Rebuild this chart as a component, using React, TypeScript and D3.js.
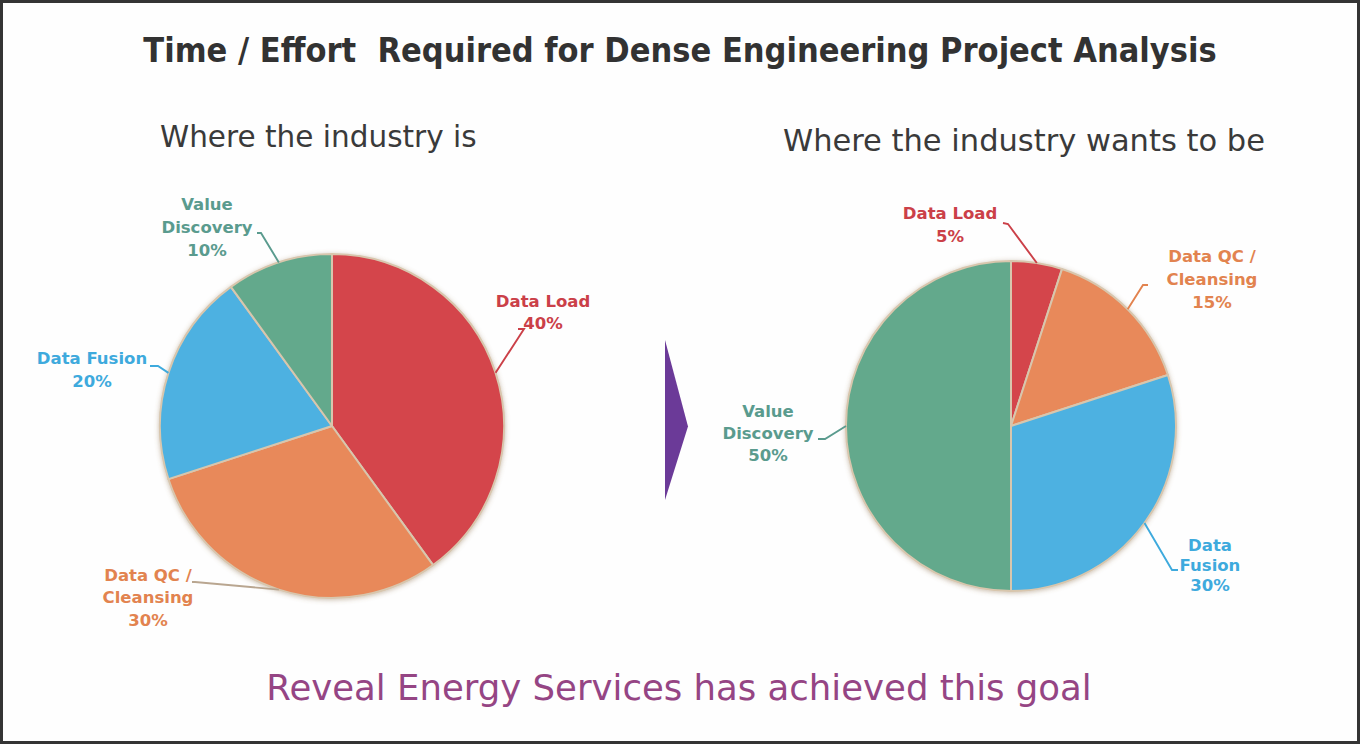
import React from "react";
import * as d3 from "d3";

// slice order, clockwise from 12 o'clock
const categories = ["Data Load", "Data QC / Cleansing", "Data Fusion", "Value Discovery"];
const currentShare = [40, 30, 20, 10];
const targetShare = [5, 15, 30, 50];

// how each pie breaks the category names into lines
const currentNameLines = [["Data Load"], ["Data QC /", "Cleansing"], ["Data Fusion"], ["Value", "Discovery"]];
const targetNameLines = [["Data Load"], ["Data QC /", "Cleansing"], ["Data", "Fusion"], ["Value", "Discovery"]];

const sliceColors = ["#d4444c", "#e8895a", "#4db1e1", "#64a98c"];
const labelColors = ["#cb4048", "#e2834f", "#3eaadd", "#5a9b8e"];

const W = 1360;
const H = 744;
const FONT = "'DejaVu Sans', Verdana, sans-serif";
const FONT_COND = "'DejaVu Sans Condensed', 'DejaVu Sans', sans-serif";

// label placement relative to each pie centre: text centre, elbow and hook of the leader
const leftLayout = {
  cx: 332, cy: 426, r: 172,
  labels: [
    { tx: 211, ty: -125, lh: 22, elbow: [192, -97], hook: [186, -97] },
    { tx: -184, ty: 149, lh: 22.5, elbow: [-137, 156], hook: [-140, 156], lineColor: "#b9a690" },
    { tx: -240, ty: -68, lh: 23, elbow: [-174, -60], hook: [-182, -60] },
    { tx: -125, ty: -222, lh: 23, elbow: [-71, -193], hook: [-75, -193] },
  ],
};
const rightLayout = {
  cx: 1011, cy: 426, r: 165,
  labels: [
    { tx: -61, ty: -213, lh: 23, elbow: [-3, -202], hook: [-8, -203] },
    { tx: 201, ty: -170, lh: 23, elbow: [132, -141], hook: [137, -141] },
    { tx: 199, ty: 119, lh: 20, elbow: [161, 144], hook: [167, 144] },
    { tx: -243, ty: -15, lh: 22, elbow: [-186, 13], hook: [-193, 13] },
  ],
};

type Layout = typeof leftLayout;

function Pie({ values, nameLines, layout, id }: { values: number[]; nameLines: string[][]; layout: Layout; id: string }) {
  const pie = d3.pie<number>().sort(null).value((d) => d);
  const arcs = pie(values);
  const arc = d3.arc<d3.PieArcDatum<number>>().innerRadius(0).outerRadius(layout.r);
  const edge = d3.arc<d3.PieArcDatum<number>>().innerRadius(layout.r).outerRadius(layout.r);

  return (
    <g transform={`translate(${layout.cx},${layout.cy})`}>
      <g filter={`url(#${id}-shadow)`}>
        {arcs.map((a, i) => (
          <path key={i} d={arc(a) || ""} fill={sliceColors[i]} stroke="#d8c6ad" strokeWidth={2} strokeLinejoin="round" />
        ))}
      </g>
      {arcs.map((a, i) => {
        const lab = layout.labels[i];
        const [ex, ey] = edge.centroid(a);
        const lines = [...nameLines[i], `${values[i]}%`];
        return (
          <g key={i}>
            <polyline
              points={`${lab.hook[0]},${lab.hook[1]} ${lab.elbow[0]},${lab.elbow[1]} ${ex},${ey}`}
              fill="none"
              stroke={(lab as any).lineColor || labelColors[i]}
              strokeWidth={1.9}
            />
            <text
              x={lab.tx}
              y={lab.ty}
              textAnchor="middle"
              fontFamily={FONT}
              fontWeight="bold"
              fontSize={16.5}
              fill={labelColors[i]}
            >
              {lines.map((t, j) => (
                <tspan key={j} x={lab.tx} y={lab.ty + j * lab.lh} dy="0.36em">
                  {t}
                </tspan>
              ))}
            </text>
          </g>
        );
      })}
    </g>
  );
}

export default function App() {
  const arrowY = d3.scaleLinear().domain([0, 1]).range([340, 500]);
  return (
    <div style={{ position: "absolute", left: 0, top: 0 }}>
      <svg width={W} height={H} style={{ display: "block" }}>
        <defs>
          {["left", "right"].map((id) => (
            <filter key={id} id={`${id}-shadow`} x="-10%" y="-10%" width="120%" height="120%">
              <feDropShadow dx="0" dy="1" stdDeviation="2.5" floodColor="#8a6a45" floodOpacity="0.45" />
            </filter>
          ))}
        </defs>
        <rect x={0} y={0} width={W} height={H} fill="#fefefe" />
        <rect x={1.5} y={1.5} width={W - 3} height={H - 3} fill="none" stroke="#343434" strokeWidth={3} />

        <text
          x={680}
          y={62}
          textAnchor="middle"
          fontFamily={FONT_COND}
          fontWeight="bold"
          fontSize={34}
          fill="#323232"
          style={{ whiteSpace: "pre" }}
        >
          {"Time / Effort  Required for Dense Engineering Project Analysis"}
        </text>

        <text x={160} y={147} fontFamily={FONT} fontSize={29.5} fill="#3a3a3a">
          Where the industry is
        </text>
        <text x={783} y={151} fontFamily={FONT} fontSize={30.5} fill="#3a3a3a">
          Where the industry wants to be
        </text>

        <Pie values={currentShare} nameLines={currentNameLines} layout={leftLayout} id="left" />
        <Pie values={targetShare} nameLines={targetNameLines} layout={rightLayout} id="right" />

        <path
          d={`M665,${arrowY(0)} L688,${arrowY(0.54)} L665,${arrowY(1)} Z`}
          fill="#6b3a98"
        />

        <text
          x={679}
          y={700}
          textAnchor="middle"
          fontFamily={FONT}
          fontSize={35.5}
          fill="#954584"
        >
          Reveal Energy Services has achieved this goal
        </text>
      </svg>
    </div>
  );
}
